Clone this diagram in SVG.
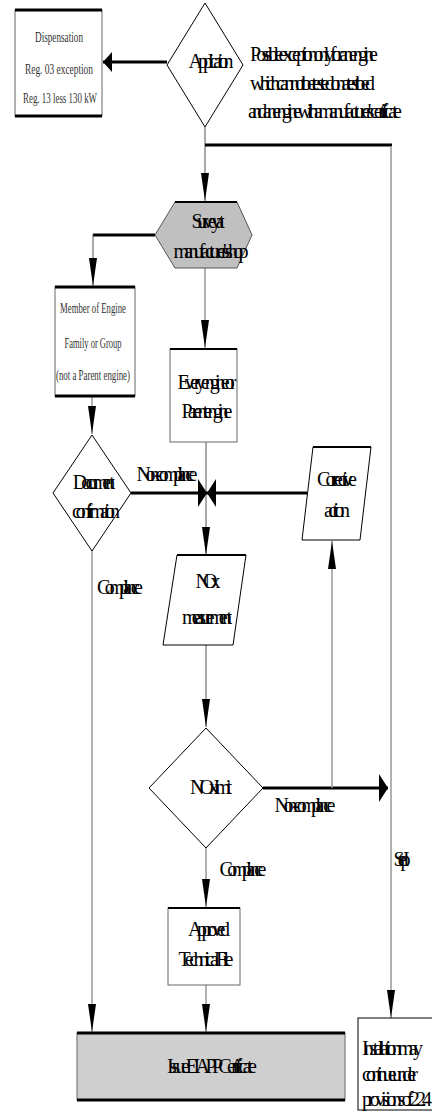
<svg xmlns="http://www.w3.org/2000/svg" width="432" height="1117" viewBox="0 0 432 1117">
<style>
.t{font-family:"Liberation Serif","Times New Roman",serif;font-size:15px;fill:#333;text-anchor:middle}
.g{font-family:"Liberation Serif","Times New Roman",serif;font-size:20px;fill:#000;text-anchor:middle}
.gl{font-family:"Liberation Serif","Times New Roman",serif;font-size:20px;fill:#000;text-anchor:start}
.thin{fill:none;stroke:#555;stroke-width:1}
.gray{fill:none;stroke:#999;stroke-width:1.5}
.thick{fill:none;stroke:#000;stroke-width:3}
.side{fill:#fff;stroke:#666;stroke-width:1}
.edge{stroke:#000;stroke-width:3}
.edge2{stroke:#000;stroke-width:2}
</style>
<defs>
<marker id="ah" markerUnits="userSpaceOnUse" markerWidth="28" markerHeight="8" refX="28" refY="4" orient="auto"><path d="M0,0 L28,4 L0,8 z" fill="#000"/></marker>
<marker id="ahk" markerUnits="userSpaceOnUse" markerWidth="10" markerHeight="28" refX="9" refY="14" orient="auto"><path d="M0,0 L9,14 L0,28 z" fill="#000"/></marker>
<marker id="ahm" markerUnits="userSpaceOnUse" markerWidth="10" markerHeight="20" refX="9" refY="10" orient="auto"><path d="M0,0 L9,10 L0,20 z" fill="#000"/></marker>
</defs>

<g id="connectors">
<path class="thick" d="M167,62 H103" marker-end="url(#ahm)"/>
<path class="thin" d="M205,127 V201" marker-end="url(#ah)"/>
<path class="thick" d="M205,145 H392"/>
<path class="gray" d="M391,146 V1018" marker-end="url(#ah)"/>
<path class="thick" d="M155,235 H93"/>
<path class="thin" d="M93,234 V286" marker-end="url(#ah)"/>
<path class="gray" d="M205,268 V348" marker-end="url(#ah)"/>
<path class="gray" d="M92,396 V434" marker-end="url(#ah)"/>
<path class="thin" d="M206,442 V555" marker-end="url(#ah)"/>
<path class="thick" d="M131,493 H207" marker-end="url(#ahk)"/>
<path class="thick" d="M307,493 H207" marker-end="url(#ahk)"/>
<path class="thin" d="M206,645 V727" marker-end="url(#ah)"/>
<path class="thick" d="M263,788 H388" marker-end="url(#ahk)"/>
<path class="gray" d="M332,788 V541" marker-end="url(#ah)"/>
<path class="gray" d="M206,848 V907" marker-end="url(#ah)"/>
<path class="gray" d="M206,985 V1032" marker-end="url(#ah)"/>
<path class="gray" d="M92,551 V1032" marker-end="url(#ah)"/>
<text class="g" x="167" y="481" textLength="61" lengthAdjust="spacing">Non-compliance</text>
<text class="g" x="120" y="594" textLength="46" lengthAdjust="spacing">Compliance</text>
<text class="g" x="305" y="812" textLength="61" lengthAdjust="spacing">Non-compliance</text>
<text class="g" x="243" y="876" textLength="47" lengthAdjust="spacing">Compliance</text>
<text class="g" x="402" y="866" textLength="16" lengthAdjust="spacing">Step I</text>
</g>

<g id="dispensation">
<rect class="side" x="15" y="10" width="87" height="106"/>
<line class="edge" x1="15" y1="10" x2="102" y2="10"/>
<line class="edge" x1="15" y1="116" x2="102" y2="116"/>
<text class="t" x="59" y="42" textLength="48" lengthAdjust="spacingAndGlyphs">Dispensation</text>
<text class="t" x="59" y="74" textLength="68" lengthAdjust="spacingAndGlyphs">Reg. 03 exception</text>
<text class="t" x="60" y="103" textLength="74" lengthAdjust="spacingAndGlyphs">Reg. 13 less 130 kW</text>
</g>

<g id="application">
<polygon points="205,3 243,65 205,127 167,65" fill="#fff" stroke="#000" stroke-width="1"/>
<text class="g" x="211" y="68" textLength="45" lengthAdjust="spacing">Application</text>
</g>

<g id="note">
<text class="gl" x="250" y="61" textLength="128" lengthAdjust="spacing">Possible exception only for an engine</text>
<text class="gl" x="250" y="90" textLength="125" lengthAdjust="spacing">which cannot be tested on a test bed</text>
<text class="gl" x="248" y="118" textLength="154" lengthAdjust="spacing">and an engine with a manufacturer's certificate</text>
</g>

<g id="survey">
<polygon points="175,202 237,202 252,235 237,268 175,268 155,235" fill="#c0c0c0" stroke="#555" stroke-width="1"/>
<line class="edge2" x1="175" y1="202" x2="237" y2="202" stroke="#555"/>
<text class="g" x="208" y="228" textLength="33" lengthAdjust="spacing">Survey at</text>
<text class="g" x="211" y="258" textLength="75" lengthAdjust="spacing">manufacturer's shop</text>
</g>

<g id="member">
<rect class="side" x="55" y="287" width="80" height="109"/>
<line class="edge" x1="55" y1="287" x2="135" y2="287"/>
<line class="edge" x1="55" y1="396" x2="135" y2="396"/>
<text class="t" x="93" y="313" textLength="66" lengthAdjust="spacingAndGlyphs">Member of Engine</text>
<text class="t" x="93" y="348" textLength="57" lengthAdjust="spacingAndGlyphs">Family or Group</text>
<text class="t" x="93" y="380" textLength="74" lengthAdjust="spacingAndGlyphs">(not a Parent engine)</text>
</g>

<g id="every">
<rect class="side" x="170" y="349" width="67" height="93" stroke="#000"/>
<line class="edge2" x1="170" y1="349" x2="237" y2="349"/>
<text class="g" x="207" y="389" textLength="59" lengthAdjust="spacing">Every engine or</text>
<text class="g" x="207" y="418" textLength="51" lengthAdjust="spacing">Parent engine</text>
</g>

<g id="document">
<polygon points="92,435 131,493 92,551 53,493" fill="#fff" stroke="#000" stroke-width="1"/>
<text class="g" x="94" y="489" textLength="42" lengthAdjust="spacing">Document</text>
<text class="g" x="96" y="518" textLength="48" lengthAdjust="spacing">confirmation</text>
</g>

<g id="corrective">
<polygon points="313,447 371,447 360,540 302,540" fill="#fff" stroke="#000" stroke-width="1"/>
<line class="edge2" x1="313" y1="447" x2="371" y2="447"/>
<text class="g" x="337" y="486" textLength="40" lengthAdjust="spacing">Corrective</text>
<text class="g" x="337" y="517" textLength="26" lengthAdjust="spacing">action</text>
</g>

<g id="nox-measurement">
<polygon points="177,555 246,555 233,645 163,645" fill="#fff" stroke="#000" stroke-width="1"/>
<line class="edge2" x1="177" y1="555" x2="246" y2="555"/>
<text class="g" x="208" y="588" textLength="25" lengthAdjust="spacing">NOx</text>
<text class="g" x="207" y="624" textLength="50" lengthAdjust="spacing">measurement</text>
</g>

<g id="nox-limit">
<polygon points="206,728 263,788 206,848 149,788" fill="#fff" stroke="#000" stroke-width="1"/>
<text class="g" x="211" y="794" textLength="42" lengthAdjust="spacing">NOx limit</text>
</g>

<g id="approved">
<rect class="side" x="168" y="908" width="72" height="77" stroke="#000"/>
<line class="edge2" x1="168" y1="908" x2="240" y2="908"/>
<text class="g" x="209" y="936" textLength="42" lengthAdjust="spacing">Approved</text>
<text class="g" x="206" y="966" textLength="55" lengthAdjust="spacing">Technical File</text>
</g>

<g id="issue">
<rect x="77" y="1033" width="268" height="67" fill="#cfcfcf" stroke="#666" stroke-width="1"/>
<line class="edge" x1="77" y1="1033" x2="345" y2="1033"/>
<line class="edge" x1="77" y1="1100" x2="345" y2="1100"/>
<text class="g" x="212" y="1073" textLength="90" lengthAdjust="spacing">Issue EIAPP Certificate</text>
</g>

<g id="installation">
<rect x="358" y="1018" width="80" height="92" fill="#fff" stroke="#000" stroke-width="1"/>
<text class="gl" x="362" y="1055" textLength="61" lengthAdjust="spacing">Installation may</text>
<text class="gl" x="362" y="1081" textLength="56" lengthAdjust="spacing">continue under</text>
<text class="gl" x="362" y="1106" textLength="70" lengthAdjust="spacing">provisions of 2.2.4</text>
</g>
</svg>
